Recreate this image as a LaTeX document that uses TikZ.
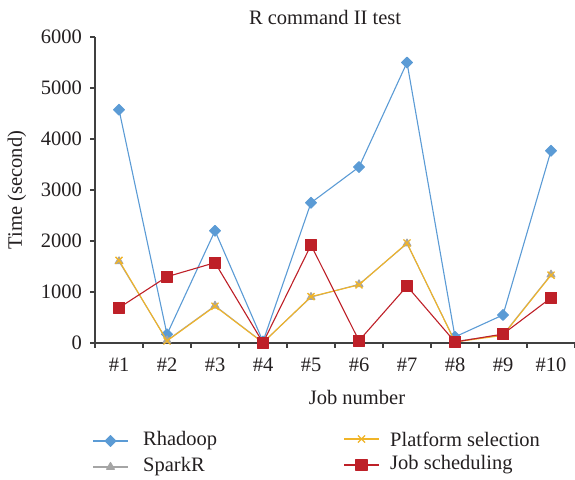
\documentclass[tikz,border=0pt]{standalone}
\usepackage{fontspec}
\setmainfont{Liberation Serif}
\usepackage{tikz}
\usetikzlibrary{plotmarks}
\usetikzlibrary{positioning}
\definecolor{rhcol}{RGB}{91,155,213}
\definecolor{spcol}{RGB}{165,165,165}
\definecolor{plcol}{RGB}{240,180,40}
\definecolor{jscol}{RGB}{190,32,40}
\definecolor{axcol}{RGB}{64,64,64}
\definecolor{txtcol}{RGB}{35,31,32}
\tikzstyle{series} = [line width=1.1pt, line join=round]
\tikzstyle{lbl} = [font=\fontsize{20.5}{23}\selectfont, text=txtcol, inner sep=0pt]
\tikzstyle{axis} = [line width=1.4pt, axcol]
\tikzstyle{rhmark} = [mark=square*, mark size=3.8pt, mark options={fill=rhcol, rotate=45}]

\begin{document}
\begin{tikzpicture}[x=1pt, y=1pt]
		\useasboundingbox (0,0) rectangle (575,479);
		% title and axis names
		\node (title) [lbl] at (325,462) {R command II test};
		\node (ylab) [lbl, rotate=90] at (17,289) {Time (second)};
		\node (xlab) [lbl] at (357,82) {Job number};
		% axes
		\coordinate (orig) at (95,136);
		\coordinate (ytop) at (95,442);
		\coordinate (xend) at (575,136);
		\draw [axis] (ytop) -- (orig) -- (xend);
		\foreach \v [count=\k from 0] in {0,1000,2000,3000,4000,5000,6000} {
			\draw [axis] (90,136+51*\k) -- (95,136+51*\k);
			\node (yt\k) [lbl, anchor=east] at (82,136+51*\k) {\v};
		}
		\foreach \k in {0,...,10}
			\draw [axis] (95+48*\k,136) -- (95+48*\k,131);
		\foreach \k in {1,...,10}
			\node (xt\k) [lbl] at (71+48*\k,114) {\#\k};
		% data
		\begin{scope}[shift={(95,136)}, x=48pt, y=0.051pt]
			\draw [series, rhcol, rhmark] plot coordinates
				{(0.5,4575) (1.5,170) (2.5,2200) (3.5,30) (4.5,2750) (5.5,3450) (6.5,5500) (7.5,120) (8.5,550) (9.5,3770)};
			\draw [series, spcol, mark=triangle*, mark size=4.5pt, mark options={fill=spcol}] plot coordinates
				{(0.5,1600) (1.5,50) (2.5,730) (3.5,10) (4.5,900) (5.5,1150) (6.5,1950) (7.5,30) (8.5,160) (9.5,1340)};
			\draw [series, plcol, mark=x, mark size=5pt, mark options={line width=1.3pt}] plot coordinates
				{(0.5,1620) (1.5,40) (2.5,720) (3.5,5) (4.5,910) (5.5,1140) (6.5,1960) (7.5,20) (8.5,150) (9.5,1330)};
			\draw [series, jscol, mark=square*, mark size=5.5pt, mark options={fill=jscol}] plot coordinates
				{(0.5,690) (1.5,1300) (2.5,1575) (3.5,5) (4.5,1920) (5.5,45) (6.5,1115) (7.5,20) (8.5,175) (9.5,885)};
		\end{scope}
		% legend
		\draw [series, rhcol, rhmark, mark indices={2}] plot coordinates {(93,38) (110.5,38) (128,38)};
		\node (lrh) [lbl, anchor=west] at (143,38) {Rhadoop};
		\draw [series, spcol, mark=triangle*, mark size=4.5pt, mark options={fill=spcol}, mark indices={2}] plot coordinates {(93,12) (110.5,12) (128,12)};
		\node (lsp) [lbl, anchor=west] at (143,12) {SparkR};
		\draw [series, plcol, mark=x, mark size=5pt, mark options={line width=1.3pt}, mark indices={2}] plot coordinates {(344,40) (361.5,40) (379,40)};
		\node (lpl) [lbl, anchor=west] at (390,40) {Platform selection};
		\draw [series, jscol, mark=square*, mark size=5.5pt, mark options={fill=jscol}, mark indices={2}] plot coordinates {(344,14) (361.5,14) (379,14)};
		\node (ljs) [lbl, anchor=west] at (390,14) {Job scheduling};
\end{tikzpicture}
\end{document}
